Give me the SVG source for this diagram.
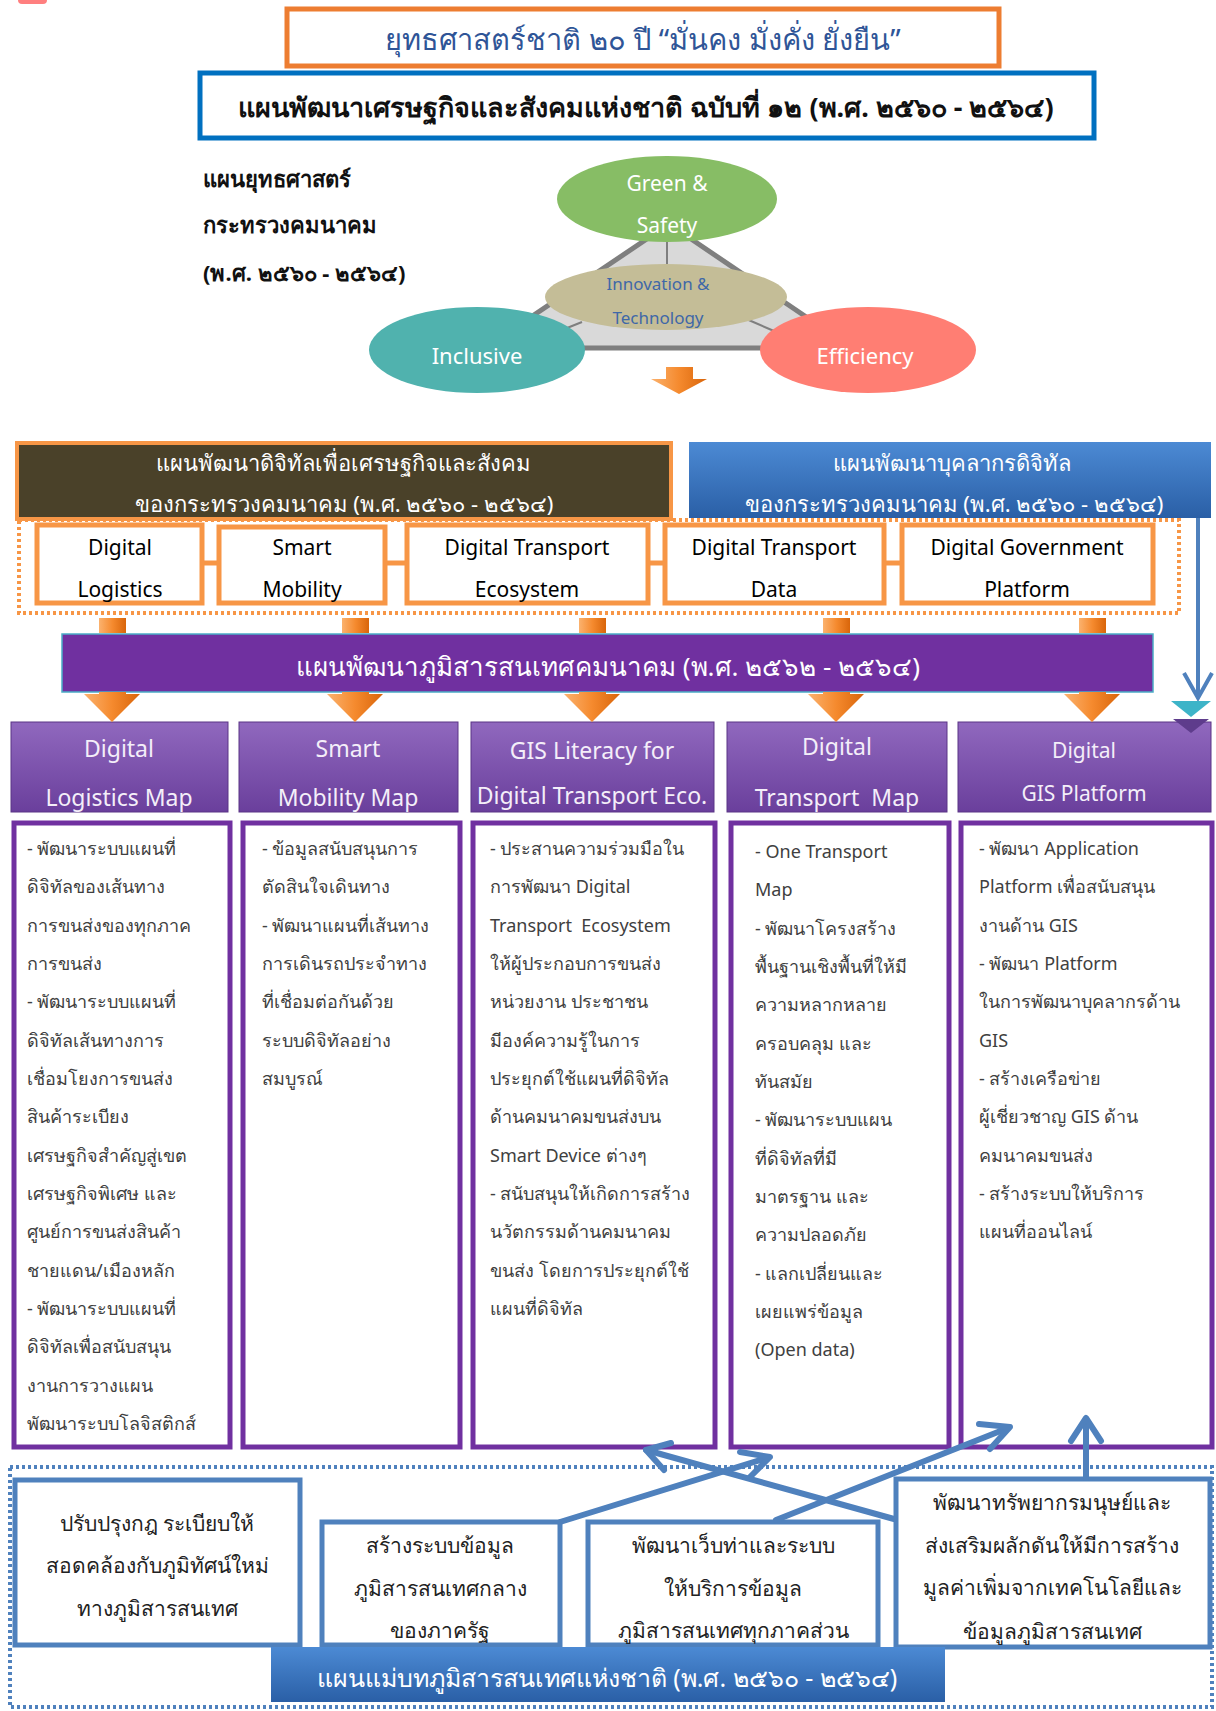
<svg xmlns="http://www.w3.org/2000/svg" width="1216" height="1711" viewBox="0 0 1216 1711">
<defs>
<linearGradient id="gOrange" x1="0" y1="0" x2="1" y2="0">
<stop offset="0" stop-color="#FBB26E"/><stop offset="0.5" stop-color="#F58A2E"/><stop offset="1" stop-color="#D9650A"/>
</linearGradient>
<linearGradient id="gPurple" x1="0" y1="0" x2="0" y2="1">
<stop offset="0" stop-color="#9068BE"/><stop offset="1" stop-color="#6A3F9C"/>
</linearGradient>
<linearGradient id="gBlue" x1="0" y1="0" x2="0" y2="1">
<stop offset="0" stop-color="#4C8AD4"/><stop offset="1" stop-color="#2A5FA6"/>
</linearGradient>
<style>
text{font-family:"Noto Sans","DejaVu Sans",sans-serif;}
.c{text-anchor:middle;dominant-baseline:central;}
.l{dominant-baseline:central;}
.white{fill:#ffffff;}
.box-or{fill:#ffffff;stroke:#F79646;stroke-width:5;}
.box-pu{fill:#ffffff;stroke:#7030A0;stroke-width:5;}
.box-bl{fill:#ffffff;stroke:#4F81BD;stroke-width:5;}
.ph{fill:url(#gPurple);stroke:#5B3486;stroke-width:1;}
.phtxt{fill:#F4EEF9;font-size:23px;}
.ct{fill:#404040;font-size:18px;}
.sm{fill:#000;font-size:21px;}
.bt{fill:#222;font-size:21px;}
.arr{fill:url(#gOrange);}
.con{fill:none;stroke:#4F81BD;stroke-width:6;stroke-linecap:round;stroke-linejoin:round;}
</style>
</defs>
<rect width="1216" height="1711" fill="#ffffff"/>
<rect x="18" y="-8" width="29" height="12" rx="4" fill="#FF7F7F"/>

<g id="title1">
<rect x="287" y="9" width="712" height="57" fill="#fff" stroke="#ED7D31" stroke-width="5"/>
<text x="643" y="38" class="c" style="font-size:29px;fill:#2F5597;">ยุทธศาสตร์ชาติ ๒๐ ปี “มั่นคง มั่งคั่ง ยั่งยืน”</text>
</g>
<g id="title2">
<rect x="200" y="73" width="894" height="65" fill="#fff" stroke="#0070C0" stroke-width="5"/>
<text x="646" y="106" class="c" style="font-size:27px;font-weight:bold;fill:#111;">แผนพัฒนาเศรษฐกิจและสังคมแห่งชาติ ฉบับที่ ๑๒ (พ.ศ. ๒๕๖๐ - ๒๕๖๔)</text>
</g>
<g id="mot-plan">
<text x="203" y="178" class="l" style="font-size:22px;font-weight:bold;fill:#111;">แผนยุทธศาสตร์</text>
<text x="203" y="224" class="l" style="font-size:22px;font-weight:bold;fill:#111;">กระทรวงคมนาคม</text>
<text x="203" y="272" class="l" style="font-size:22px;font-weight:bold;fill:#111;">(พ.ศ. ๒๕๖๐ - ๒๕๖๔)</text>
</g>

<g id="triangle">
<polygon points="669,224 485,348 852,348" fill="#D9D9D9" stroke="#7F7F7F" stroke-width="5" stroke-linejoin="round"/>
<line x1="667" y1="240" x2="667" y2="266" stroke="#7F7F7F" stroke-width="2"/>
<line x1="582" y1="322" x2="562" y2="330" stroke="#7F7F7F" stroke-width="2"/>
<line x1="744" y1="318" x2="774" y2="331" stroke="#7F7F7F" stroke-width="2"/>
</g>
<g id="green-safety">
<ellipse cx="667" cy="199" rx="110" ry="43" fill="#87BD65"/>
<text x="667" y="183" class="c white" style="font-size:21px;">Green &amp;</text>
<text x="667" y="225" class="c white" style="font-size:21px;">Safety</text>
</g>
<g id="innovation">
<ellipse cx="666" cy="297" rx="121" ry="33" fill="#C4BD97"/>
<text x="658" y="283" class="c" style="font-size:17px;fill:#3F68A8;">Innovation &amp;</text>
<text x="658" y="317" class="c" style="font-size:17px;fill:#3F68A8;">Technology</text>
</g>
<g id="inclusive">
<ellipse cx="477" cy="350" rx="108" ry="43" fill="#50B2AE"/>
<text x="477" y="355" class="c white" style="font-size:22px;">Inclusive</text>
</g>
<g id="efficiency">
<ellipse cx="868" cy="350" rx="108" ry="43" fill="#FF7E73"/>
<text x="865" y="355" class="c white" style="font-size:22px;">Efficiency</text>
</g>
<rect x="0" y="394" width="1216" height="40" fill="#ffffff"/>

<g id="digital-plan">
<rect x="17" y="443" width="654" height="76" fill="#4A4129" stroke="#F79646" stroke-width="4"/>
<text x="343" y="462" class="c white" style="font-size:22px;">แผนพัฒนาดิจิทัลเพื่อเศรษฐกิจและสังคม</text>
<text x="344" y="503" class="c white" style="font-size:22px;">ของกระทรวงคมนาคม (พ.ศ. ๒๕๖๐ - ๒๕๖๔)</text>
</g>
<g id="people-plan">
<rect x="689" y="442" width="522" height="76" fill="url(#gBlue)"/>
<text x="952" y="462" class="c white" style="font-size:22px;">แผนพัฒนาบุคลากรดิจิทัล</text>
<text x="954" y="503" class="c white" style="font-size:22px;">ของกระทรวงคมนาคม (พ.ศ. ๒๕๖๐ - ๒๕๖๔)</text>
</g>

<g id="digital-frame">
<rect x="19" y="520" width="1160" height="93" fill="none" stroke="#F79646" stroke-width="4" stroke-dasharray="3 3"/>
</g>

<g id="d-logistics"><rect x="37" y="525" width="165" height="78" class="box-or"/>
<text x="120" y="547" class="c sm">Digital</text><text x="120" y="589" class="c sm">Logistics</text></g>
<g id="d-mobility"><rect x="219" y="527" width="166" height="76" class="box-or"/>
<text x="302" y="547" class="c sm">Smart</text><text x="302" y="589" class="c sm">Mobility</text></g>
<g id="d-ecosystem"><rect x="407" y="525" width="241" height="78" class="box-or"/>
<text x="527" y="547" class="c sm">Digital Transport</text><text x="527" y="589" class="c sm">Ecosystem</text></g>
<g id="d-data"><rect x="665" y="525" width="219" height="78" class="box-or"/>
<text x="774" y="547" class="c sm">Digital Transport</text><text x="774" y="589" class="c sm">Data</text></g>
<g id="d-gov"><rect x="902" y="525" width="251" height="78" class="box-or"/>
<text x="1027" y="547" class="c sm">Digital Government</text><text x="1027" y="589" class="c sm">Platform</text></g>

<g id="gis-plan">
<rect x="62" y="634" width="1091" height="58" fill="#7030A0" stroke="#4BACC6" stroke-width="1.5"/>
<text x="608" y="666" class="c white" style="font-size:26px;">แผนพัฒนาภูมิสารสนเทศคมนาคม (พ.ศ. ๒๕๖๒ - ๒๕๖๔)</text>
</g>

<g id="h1"><rect x="11" y="722" width="217" height="90" class="ph"/>
<text x="119" y="748" class="c phtxt">Digital</text><text x="119" y="797" class="c phtxt">Logistics Map</text></g>
<g id="h2"><rect x="239" y="722" width="219" height="90" class="ph"/>
<text x="348" y="748" class="c phtxt">Smart</text><text x="348" y="797" class="c phtxt">Mobility Map</text></g>
<g id="h3"><rect x="471" y="722" width="243" height="90" class="ph"/>
<text x="592" y="750" class="c phtxt">GIS Literacy for</text><text x="592" y="795" class="c phtxt">Digital Transport Eco.</text></g>
<g id="h4"><rect x="727" y="722" width="220" height="90" class="ph"/>
<text x="837" y="746" class="c phtxt">Digital</text><text x="837" y="797" class="c phtxt">Transport&#160; Map</text></g>
<g id="h5"><rect x="958" y="722" width="253" height="90" class="ph"/>
<text x="1084" y="750" class="c phtxt" style="font-size:21px;">Digital</text><text x="1084" y="793" class="c phtxt" style="font-size:21px;">GIS Platform</text></g>

<g id="c1"><rect x="14" y="823" width="216" height="624" class="box-pu"/>
<text class="ct" x="27" y="855">- พัฒนาระบบแผนที่</text>
<text class="ct" x="27" y="893">ดิจิทัลของเส้นทาง</text>
<text class="ct" x="27" y="932">การขนส่งของทุกภาค</text>
<text class="ct" x="27" y="970">การขนส่ง</text>
<text class="ct" x="27" y="1008">- พัฒนาระบบแผนที่</text>
<text class="ct" x="27" y="1047">ดิจิทัลเส้นทางการ</text>
<text class="ct" x="27" y="1085">เชื่อมโยงการขนส่ง</text>
<text class="ct" x="27" y="1123">สินค้าระเบียง</text>
<text class="ct" x="27" y="1162">เศรษฐกิจสำคัญสู่เขต</text>
<text class="ct" x="27" y="1200">เศรษฐกิจพิเศษ และ</text>
<text class="ct" x="27" y="1238">ศูนย์การขนส่งสินค้า</text>
<text class="ct" x="27" y="1277">ชายแดน/เมืองหลัก</text>
<text class="ct" x="27" y="1315">- พัฒนาระบบแผนที่</text>
<text class="ct" x="27" y="1353">ดิจิทัลเพื่อสนับสนุน</text>
<text class="ct" x="27" y="1392">งานการวางแผน</text>
<text class="ct" x="27" y="1430">พัฒนาระบบโลจิสติกส์</text>
</g>
<g id="c2"><rect x="243" y="823" width="217" height="624" class="box-pu"/>
<text class="ct" x="262" y="855">- ข้อมูลสนับสนุนการ</text>
<text class="ct" x="262" y="893">ตัดสินใจเดินทาง</text>
<text class="ct" x="262" y="932">- พัฒนาแผนที่เส้นทาง</text>
<text class="ct" x="262" y="970">การเดินรถประจำทาง</text>
<text class="ct" x="262" y="1008">ที่เชื่อมต่อกันด้วย</text>
<text class="ct" x="262" y="1047">ระบบดิจิทัลอย่าง</text>
<text class="ct" x="262" y="1085">สมบูรณ์</text>
</g>
<g id="c3"><rect x="473" y="823" width="242" height="624" class="box-pu"/>
<text class="ct" x="490" y="855">- ประสานความร่วมมือใน</text>
<text class="ct" x="490" y="893">การพัฒนา Digital</text>
<text class="ct" x="490" y="932">Transport&#160; Ecosystem</text>
<text class="ct" x="490" y="970">ให้ผู้ประกอบการขนส่ง</text>
<text class="ct" x="490" y="1008">หน่วยงาน ประชาชน</text>
<text class="ct" x="490" y="1047">มีองค์ความรู้ในการ</text>
<text class="ct" x="490" y="1085">ประยุกต์ใช้แผนที่ดิจิทัล</text>
<text class="ct" x="490" y="1123">ด้านคมนาคมขนส่งบน</text>
<text class="ct" x="490" y="1162">Smart Device ต่างๆ</text>
<text class="ct" x="490" y="1200">- สนับสนุนให้เกิดการสร้าง</text>
<text class="ct" x="490" y="1238">นวัตกรรมด้านคมนาคม</text>
<text class="ct" x="490" y="1277">ขนส่ง โดยการประยุกต์ใช้</text>
<text class="ct" x="490" y="1315">แผนที่ดิจิทัล</text>
</g>
<g id="c4"><rect x="731" y="823" width="218" height="624" class="box-pu"/>
<text class="ct" x="755" y="858">- One Transport</text>
<text class="ct" x="755" y="896">Map</text>
<text class="ct" x="755" y="935">- พัฒนาโครงสร้าง</text>
<text class="ct" x="755" y="973">พื้นฐานเชิงพื้นที่ให้มี</text>
<text class="ct" x="755" y="1011">ความหลากหลาย</text>
<text class="ct" x="755" y="1050">ครอบคลุม และ</text>
<text class="ct" x="755" y="1088">ทันสมัย</text>
<text class="ct" x="755" y="1126">- พัฒนาระบบแผน</text>
<text class="ct" x="755" y="1165">ที่ดิจิทัลที่มี</text>
<text class="ct" x="755" y="1203">มาตรฐาน และ</text>
<text class="ct" x="755" y="1241">ความปลอดภัย</text>
<text class="ct" x="755" y="1280">- แลกเปลี่ยนและ</text>
<text class="ct" x="755" y="1318">เผยแพร่ข้อมูล</text>
<text class="ct" x="755" y="1356">(Open data)</text>
</g>
<g id="c5"><rect x="961" y="823" width="251" height="624" class="box-pu"/>
<text class="ct" x="979" y="855">- พัฒนา Application</text>
<text class="ct" x="979" y="893">Platform เพื่อสนับสนุน</text>
<text class="ct" x="979" y="932">งานด้าน GIS</text>
<text class="ct" x="979" y="970">- พัฒนา Platform</text>
<text class="ct" x="979" y="1008">ในการพัฒนาบุคลากรด้าน</text>
<text class="ct" x="979" y="1047">GIS</text>
<text class="ct" x="979" y="1085">- สร้างเครือข่าย</text>
<text class="ct" x="979" y="1123">ผู้เชี่ยวชาญ GIS ด้าน</text>
<text class="ct" x="979" y="1162">คมนาคมขนส่ง</text>
<text class="ct" x="979" y="1200">- สร้างระบบให้บริการ</text>
<text class="ct" x="979" y="1238">แผนที่ออนไลน์</text>
</g>

<g id="nsdi-frame">
<rect x="10" y="1467" width="1202" height="240" fill="none" stroke="#4F81BD" stroke-width="4" stroke-dasharray="3 3"/>
</g>
<g id="b1"><rect x="15" y="1480" width="285" height="165" class="box-bl"/>
<text x="157" y="1523" class="c bt">ปรับปรุงกฎ ระเบียบให้</text>
<text x="157" y="1565" class="c bt">สอดคล้องกับภูมิทัศน์ใหม่</text>
<text x="157" y="1608" class="c bt">ทางภูมิสารสนเทศ</text></g>
<g id="b2"><rect x="322" y="1522" width="238" height="123" class="box-bl"/>
<text x="440" y="1545" class="c bt">สร้างระบบข้อมูล</text>
<text x="440" y="1588" class="c bt">ภูมิสารสนเทศกลาง</text>
<text x="440" y="1630" class="c bt">ของภาครัฐ</text></g>
<g id="b3"><rect x="588" y="1522" width="290" height="123" class="box-bl"/>
<text x="733" y="1545" class="c bt">พัฒนาเว็บท่าและระบบ</text>
<text x="733" y="1588" class="c bt">ให้บริการข้อมูล</text>
<text x="733" y="1630" class="c bt">ภูมิสารสนเทศทุกภาคส่วน</text></g>
<g id="b4"><rect x="896" y="1479" width="314" height="168" class="box-bl"/>
<text x="1052" y="1502" class="c bt">พัฒนาทรัพยากรมนุษย์และ</text>
<text x="1052" y="1545" class="c bt">ส่งเสริมผลักดันให้มีการสร้าง</text>
<text x="1052" y="1587" class="c bt">มูลค่าเพิ่มจากเทคโนโลยีและ</text>
<text x="1052" y="1631" class="c bt">ข้อมูลภูมิสารสนเทศ</text></g>
<g id="nsdi-plan">
<rect x="271" y="1647" width="674" height="55" fill="url(#gBlue)"/>
<text x="607" y="1677" class="c white" style="font-size:25px;">แผนแม่บทภูมิสารสนเทศแห่งชาติ (พ.ศ. ๒๕๖๐ - ๒๕๖๔)</text>
</g>

<g id="connectors">
<!-- top arrow under triangle -->
<polygon points="666,367 693,367 693,379 707,379 679,394 651,379 666,379" class="arr"/>
<!-- links between digital boxes -->
<line x1="204" y1="563" x2="217" y2="563" stroke="#F79646" stroke-width="5"/>
<line x1="387" y1="563" x2="405" y2="563" stroke="#F79646" stroke-width="5"/>
<line x1="650" y1="563" x2="663" y2="563" stroke="#F79646" stroke-width="5"/>
<line x1="886" y1="563" x2="900" y2="563" stroke="#F79646" stroke-width="5"/>
<!-- orange arrows: stub above bar, head below bar -->
<rect x="99" y="618" width="27" height="15" class="arr"/><polygon points="99,692 126,692 126,694 140,694 112,722 84,694 99,694" class="arr"/>
<rect x="342" y="618" width="27" height="15" class="arr"/><polygon points="342,692 369,692 369,694 383,694 355,722 327,694 342,694" class="arr"/>
<rect x="579" y="618" width="27" height="15" class="arr"/><polygon points="579,692 606,692 606,694 620,694 592,722 564,694 579,694" class="arr"/>
<rect x="823" y="618" width="27" height="15" class="arr"/><polygon points="823,692 850,692 850,694 864,694 836,722 808,694 823,694" class="arr"/>
<rect x="1079" y="618" width="27" height="15" class="arr"/><polygon points="1079,692 1106,692 1106,694 1120,694 1092,722 1064,694 1079,694" class="arr"/>
<!-- blue arrow from people plan to GIS platform -->
<line x1="1198" y1="518" x2="1198" y2="697" stroke="#4F81BD" stroke-width="4"/>
<polyline points="1184,673 1198,698 1212,673" fill="none" stroke="#4F81BD" stroke-width="4"/>
<polygon points="1171,701 1211,701 1191,717" fill="#3DB4C8"/>
<polygon points="1173,719 1209,719 1191,733" fill="#5E3C8C"/>
<!-- bottom blue arrows -->
<line x1="560" y1="1522" x2="767" y2="1458" class="con"/>
<polyline points="740,1452 770,1457 750,1477" class="con"/>
<line x1="894" y1="1519" x2="646" y2="1450" class="con"/>
<polyline points="671,1443 646,1450 664,1470" class="con"/>
<line x1="776" y1="1520" x2="1008" y2="1428" class="con"/>
<polyline points="979,1424 1010,1427 990,1449" class="con"/>
<line x1="1086" y1="1478" x2="1086" y2="1420" class="con"/>
<polyline points="1071,1441 1086,1418 1101,1441" class="con"/>
</g>
</svg>
